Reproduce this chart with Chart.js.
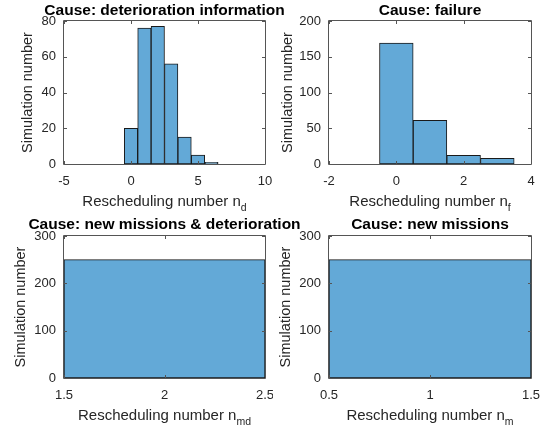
<!DOCTYPE html>
<html>
<head>
<meta charset="utf-8">
<script src="https://cdn.jsdelivr.net/npm/chart.js@4.4.0/dist/chart.umd.min.js"></script>
<style>
  body { margin: 0; background: #fff; }
  #wrap { position: relative; width: 547px; height: 436px; overflow: hidden; font-family: "Liberation Sans", Arial, sans-serif; color: #262626; }
  canvas { position: absolute; }
  .ttl { position: absolute; font-weight: bold; font-size: 15.5px; line-height: 16px; white-space: nowrap; color: #000; transform: translateX(-50%); }
  .xl { position: absolute; font-size: 15px; line-height: 16px; white-space: nowrap; transform: translateX(-50%); }
  .xl sub { font-size: 10.5px; vertical-align: -5px; }
</style>
</head>
<body>
<div id="wrap"></div>
<script>
// histogram data (bin centres, counts)
var detBins = [0, 1, 2, 3, 4, 5, 6];
var detCounts = [20, 76, 77, 56, 15, 5, 1];
var failBins = [0, 1, 2, 3];
var failCounts = [169, 61, 12, 8];
var mdBins = [2];
var mdCounts = [250];
var mBins = [1];
var mCounts = [250];

var titles = ["Cause: deterioration information", "Cause: failure", "Cause: new missions & deterioration", "Cause: new missions"];
var xNames = ["Rescheduling number n<sub>d</sub>", "Rescheduling number n<sub>f</sub>", "Rescheduling number n<sub>md</sub>", "Rescheduling number n<sub>m</sub>"];
var yName = "Simulation number";

var xMin = [-5, -2, 1.5, 0.5], xMax = [10, 4, 2.5, 1.5], xStep = [5, 2, 0.5, 0.5];
var yMax = [80, 200, 300, 300], yStep = [20, 50, 100, 100];

// layout: canvas box and axes box in page pixels, y label centre
var panels = [
  {cx: 0,   cy: 0,   cw: 273, ch: 215, l: 64,  t: 21,  r: 265, b: 164, yl: 28,    xt: 193, tt: 2},
  {cx: 273, cy: 0,   cw: 274, ch: 215, l: 329, t: 21,  r: 531, b: 164, yl: 288,   xt: 193, tt: 2},
  {cx: 0,   cy: 215, cw: 273, ch: 221, l: 64,  t: 236, r: 265, b: 378, yl: 21,    xt: 407, tt: 216},
  {cx: 273, cy: 215, cw: 274, ch: 221, l: 329, t: 236, r: 531, b: 378, yl: 285.5, xt: 407, tt: 216}
];

var bins = [detBins, failBins, mdBins, mBins];
var counts = [detCounts, failCounts, mdCounts, mCounts];

var FONT = "'Liberation Sans', Arial, sans-serif";

// matlab style box with inward ticks
var boxPlugin = {
  id: "box",
  afterDatasetsDraw: function(chart) {
    var ctx = chart.ctx, a = chart.chartArea;
    var xs = chart.scales.x, ys = chart.scales.y;
    ctx.save();
    ctx.strokeStyle = "#555";
    ctx.lineWidth = 1;
    ctx.beginPath();
    ctx.rect(Math.round(a.left) - 0.5, Math.round(a.top) - 0.5, Math.round(a.right - a.left) + 1, Math.round(a.bottom - a.top) + 1);
    xs.ticks.forEach(function(t) {
      var px = Math.round(xs.getPixelForValue(t.value)) + 0.5;
      ctx.moveTo(px, a.bottom); ctx.lineTo(px, a.bottom - 3);
      ctx.moveTo(px, a.top); ctx.lineTo(px, a.top + 3);
    });
    ys.ticks.forEach(function(t) {
      var py = Math.round(ys.getPixelForValue(t.value)) + 0.5;
      ctx.moveTo(a.left, py); ctx.lineTo(a.left + 3, py);
      ctx.moveTo(a.right, py); ctx.lineTo(a.right - 3, py);
    });
    ctx.stroke();
    ctx.restore();
  }
};

var wrap = document.getElementById("wrap");

for (var i = 0; i < 4; i++) {
  var p = panels[i];
  var cv = document.createElement("canvas");
  cv.width = p.cw; cv.height = p.ch;
  cv.style.left = p.cx + "px"; cv.style.top = p.cy + "px";
  cv.style.width = p.cw + "px"; cv.style.height = p.ch + "px";
  wrap.appendChild(cv);

  var t = document.createElement("div");
  t.className = "ttl";
  t.textContent = titles[i];
  t.style.left = ((p.l + p.r) / 2) + "px";
  t.style.top = p.tt + "px";
  wrap.appendChild(t);

  var xl = document.createElement("div");
  xl.className = "xl";
  xl.innerHTML = xNames[i];
  xl.style.left = ((p.l + p.r) / 2) + "px";
  xl.style.top = p.xt + "px";
  wrap.appendChild(xl);

  var pts = bins[i].map(function(b, k) { return {x: b, y: counts[i][k]}; });
  var yW = p.l - p.cx;
  var xH = p.cy + p.ch - p.b;
  var titlePad = (p.yl - p.cx) - 14.5 * 1.2 / 2;

  new Chart(cv, {
    type: "bar",
    data: {
      datasets: [{
        data: pts,
        backgroundColor: "rgb(99,169,215)",
        borderColor: "#1a1a1a",
        borderWidth: 1,
        borderSkipped: false,
        barThickness: "flex",
        barPercentage: 1,
        categoryPercentage: 1
      }]
    },
    options: {
      responsive: false,
      animation: false,
      events: [],
      layout: { padding: { left: 0, top: p.t - p.cy, right: p.cx + p.cw - p.r, bottom: 0 } },
      plugins: { legend: { display: false }, tooltip: { enabled: false } },
      scales: {
        x: {
          type: "linear",
          offset: false,
          min: xMin[i], max: xMax[i],
          grid: { display: false, drawTicks: false },
          border: { display: false },
          ticks: {
            stepSize: xStep[i], padding: 10, color: "#262626",
            font: { family: FONT, size: 13 },
            callback: function(v) { return String(+v.toFixed(2)); }
          },
          afterFit: (function(h) { return function(s) { s.height = h; s.paddingLeft = 0; s.paddingRight = 0; }; })(xH)
        },
        y: {
          min: 0, max: yMax[i],
          grid: { display: false, drawTicks: false },
          border: { display: false },
          ticks: { stepSize: yStep[i], padding: 8, color: "#262626", font: { family: FONT, size: 13 } },
          title: { display: true, text: yName, color: "#262626", font: { family: FONT, size: 14.5 }, padding: { top: titlePad, bottom: 0 } },
          afterFit: (function(w) { return function(s) { s.width = w; s.paddingTop = 0; s.paddingBottom = 0; }; })(yW)
        }
      }
    },
    plugins: [boxPlugin]
  });
}
</script>
</body>
</html>
